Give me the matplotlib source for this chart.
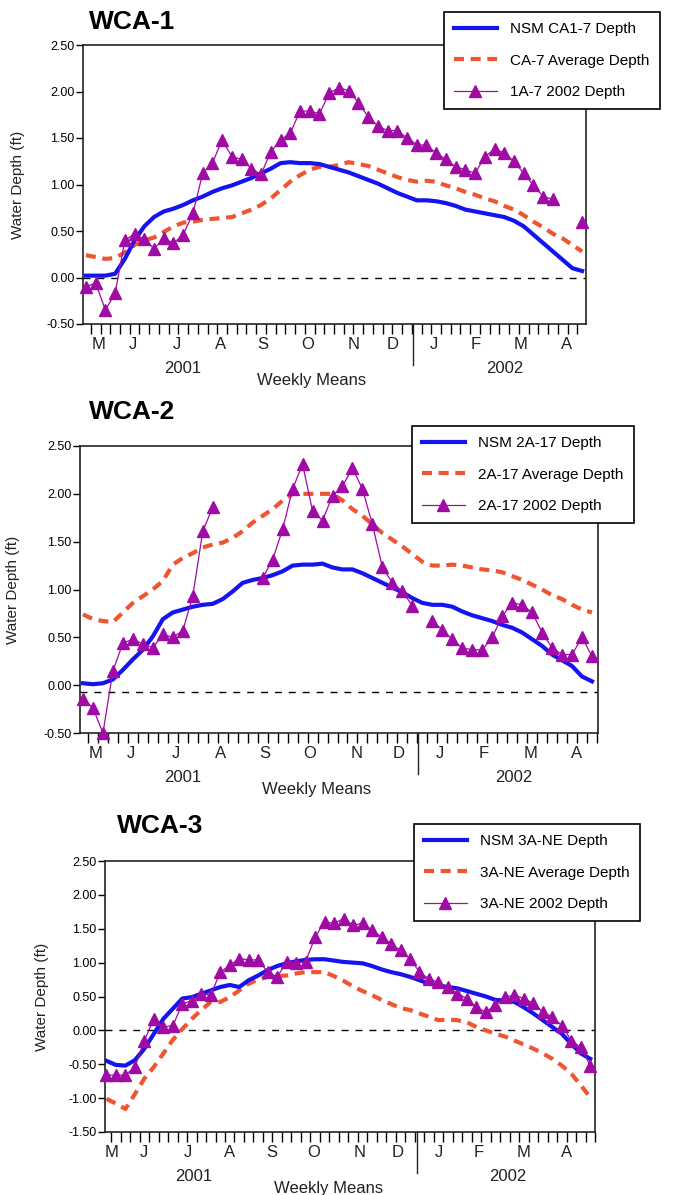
import matplotlib.pyplot as plt
import matplotlib.transforms as mtransforms
import numpy as np

plt.rcParams['font.family'] = ['Liberation Sans', 'DejaVu Sans']

# ----------------------------------------------------
# Data (weekly means, May 2001 - April 2002)
# ----------------------------------------------------
weeks = np.arange(52)
nan = np.nan

month_labels = ['M', 'J', 'J', 'A', 'S', 'O', 'N', 'D', 'J', 'F', 'M', 'A']
year_labels = ['2001', '2002']

# WCA-1
nsm_1 = [0.02, 0.02, 0.02, 0.04, 0.20, 0.40, 0.55, 0.65, 0.71, 0.74, 0.78, 0.83, 0.87,
         0.92, 0.96, 0.99, 1.03, 1.07, 1.12, 1.17, 1.23, 1.24, 1.23, 1.23, 1.22, 1.19,
         1.16, 1.13, 1.09, 1.05, 1.01, 0.96, 0.91, 0.87, 0.83, 0.83, 0.82, 0.80, 0.77,
         0.73, 0.71, 0.69, 0.67, 0.65, 0.61, 0.55, 0.46, 0.37, 0.28, 0.19, 0.10, 0.07]
avg_1 = [0.24, 0.22, 0.20, 0.21, 0.27, 0.35, 0.40, 0.43, 0.49, 0.55, 0.59, 0.60, 0.62,
         0.63, 0.64, 0.65, 0.69, 0.73, 0.78, 0.85, 0.94, 1.03, 1.10, 1.16, 1.19, 1.19,
         1.21, 1.24, 1.22, 1.20, 1.16, 1.12, 1.08, 1.05, 1.03, 1.04, 1.03, 0.99, 0.96,
         0.92, 0.89, 0.85, 0.82, 0.77, 0.73, 0.67, 0.60, 0.54, 0.47, 0.42, 0.35, 0.28]
obs_1 = [-0.10, -0.06, -0.35, -0.17, 0.40, 0.47, 0.41, 0.31, 0.42, 0.37, 0.46, 0.69, 1.12,
         1.23, 1.48, 1.30, 1.27, 1.17, 1.11, 1.35, 1.48, 1.55, 1.79, 1.79, 1.76, 1.98,
         2.04, 2.01, 1.88, 1.73, 1.63, 1.58, 1.58, 1.50, 1.43, 1.42, 1.34, 1.27, 1.19,
         1.16, 1.12, 1.30, 1.38, 1.34, 1.25, 1.12, 0.99, 0.87, 0.84, nan, nan, 0.60]

# WCA-2
nsm_2 = [0.02, 0.01, 0.02, 0.06, 0.16, 0.27, 0.37, 0.51, 0.69, 0.76, 0.79, 0.82, 0.84,
         0.85, 0.90, 0.98, 1.07, 1.10, 1.12, 1.15, 1.19, 1.25, 1.26, 1.26, 1.27, 1.23,
         1.21, 1.21, 1.17, 1.12, 1.07, 1.02, 0.97, 0.91, 0.86, 0.84, 0.84, 0.82, 0.77,
         0.73, 0.70, 0.67, 0.63, 0.60, 0.55, 0.48, 0.41, 0.32, 0.26, 0.20, 0.09, 0.04]
avg_2 = [0.74, 0.69, 0.67, 0.66, 0.76, 0.86, 0.93, 1.00, 1.09, 1.26, 1.33, 1.38, 1.44,
         1.47, 1.49, 1.54, 1.61, 1.70, 1.77, 1.84, 1.93, 2.00, 2.00, 2.00, 2.00, 2.00,
         1.93, 1.84, 1.77, 1.68, 1.59, 1.52, 1.45, 1.37, 1.29, 1.25, 1.25, 1.26, 1.25,
         1.23, 1.21, 1.20, 1.18, 1.14, 1.10, 1.05, 1.00, 0.94, 0.90, 0.84, 0.79, 0.76]
obs_2 = [-0.14, -0.24, -0.50, 0.15, 0.44, 0.48, 0.43, 0.39, 0.53, 0.50, 0.57, 0.93, 1.61,
         1.86, nan, nan, nan, nan, 1.12, 1.31, 1.63, 2.05, 2.31, 1.82, 1.72, 1.98,
         2.08, 2.27, 2.05, 1.68, 1.23, 1.07, 0.98, 0.83, nan, 0.67, 0.58, 0.48, 0.39,
         0.37, 0.37, 0.50, 0.72, 0.86, 0.84, 0.76, 0.55, 0.39, 0.32, 0.32, 0.50, 0.30]

# WCA-3
nsm_3 = [-0.45, -0.51, -0.52, -0.44, -0.27, -0.05, 0.17, 0.32, 0.47, 0.49, 0.54, 0.59,
         0.64, 0.67, 0.64, 0.74, 0.81, 0.89, 0.95, 0.99, 1.02, 1.04, 1.05, 1.05, 1.03,
         1.01, 1.00, 0.99, 0.95, 0.90, 0.86, 0.83, 0.79, 0.74, 0.69, 0.66, 0.64, 0.62,
         0.58, 0.54, 0.50, 0.45, 0.44, 0.42, 0.34, 0.25, 0.15, 0.05, -0.05, -0.20, -0.34,
         -0.42]
avg_3 = [-1.01, -1.08, -1.16, -0.94, -0.71, -0.54, -0.34, -0.14, 0.02, 0.17, 0.30, 0.42,
         0.42, 0.49, 0.59, 0.69, 0.75, 0.79, 0.80, 0.81, 0.84, 0.86, 0.86, 0.86, 0.80,
         0.73, 0.65, 0.58, 0.52, 0.45, 0.39, 0.33, 0.30, 0.25, 0.20, 0.15, 0.16, 0.15,
         0.12, 0.05, 0.00, -0.05, -0.09, -0.15, -0.21, -0.27, -0.34, -0.42, -0.52, -0.64,
         -0.81, -0.99]
obs_3 = [-0.66, -0.66, -0.66, -0.54, -0.15, 0.17, 0.05, 0.07, 0.39, 0.44, 0.54, 0.52,
         0.86, 0.96, 1.06, 1.04, 1.04, 0.86, 0.79, 1.01, 1.00, 1.01, 1.38, 1.60, 1.58,
         1.65, 1.55, 1.58, 1.48, 1.38, 1.28, 1.18, 1.06, 0.86, 0.76, 0.71, 0.64, 0.54,
         0.47, 0.34, 0.27, 0.38, 0.49, 0.52, 0.47, 0.40, 0.27, 0.20, 0.07, -0.15, -0.25,
         -0.52]

panels = [
    dict(title='WCA-1', nsm=nsm_1, avg=avg_1, obs=obs_1,
         labels=['NSM CA1-7 Depth', 'CA-7 Average Depth', '1A-7 2002 Depth'],
         ylim=(-0.5, 2.5), ref=0.0),
    dict(title='WCA-2', nsm=nsm_2, avg=avg_2, obs=obs_2,
         labels=['NSM 2A-17 Depth', '2A-17 Average Depth', '2A-17 2002 Depth'],
         ylim=(-0.5, 2.5), ref=-0.07),
    dict(title='WCA-3', nsm=nsm_3, avg=avg_3, obs=obs_3,
         labels=['NSM 3A-NE Depth', '3A-NE Average Depth', '3A-NE 2002 Depth'],
         ylim=(-1.5, 2.5), ref=0.0),
]

# layout in pixels: axes (left, right, top, bottom), legend corner, title corner
W, H = 678, 1195
layout = [
    dict(ax=(83, 586, 45, 324), leg=(444, 12), ttl=(89, 22), xlim=(-0.3, 51.4),
         months=[1.3, 4.8, 9.4, 13.8, 18.2, 22.8, 27.5, 31.5, 35.8, 40.1, 44.7, 49.4],
         years=[9.9, 43.1], split=33.6, xlab=23.2),
    dict(ax=(80, 598, 446, 733), leg=(412, 426), ttl=(89, 412), xlim=(-0.3, 51.6),
         months=[1.3, 4.8, 9.3, 13.8, 18.2, 22.7, 27.4, 31.6, 35.8, 40.1, 44.8, 49.4],
         years=[10.0, 43.2], split=33.6, xlab=23.4),
    dict(ax=(105, 595, 861, 1132), leg=(414, 824), ttl=(117, 826), xlim=(-0.15, 51.5),
         months=[0.5, 4.0, 8.6, 13.0, 17.4, 21.9, 26.7, 30.7, 35.0, 39.2, 44.0, 48.5],
         years=[9.2, 42.3], split=32.7, xlab=23.4),
]

blue = '#1414f0'
orange = '#f05532'
purple = '#a00aa5'

fig = plt.figure(figsize=(W / 100, H / 100), dpi=100)

for p, lay in zip(panels, layout):
    l, r, t, b = lay['ax']
    ax = fig.add_axes([l / W, 1 - b / H, (r - l) / W, (b - t) / H])

    ax.plot(weeks, p['nsm'], color=blue, linewidth=3, label=p['labels'][0], zorder=3)
    ax.plot(weeks, p['avg'], color=orange, linewidth=3, linestyle=(0, (2.4, 1.6)),
            label=p['labels'][1], zorder=2)
    ax.plot(weeks, p['obs'], color=purple, linewidth=0.9, marker='^', markersize=9,
            label=p['labels'][2], zorder=4, clip_on=False)
    ax.axhline(p['ref'], color='black', linewidth=1, linestyle=(0, (5, 5)), zorder=1)

    ax.set_xlim(*lay['xlim'])
    ax.set_ylim(*p['ylim'])
    ax.set_yticks(np.arange(p['ylim'][0], p['ylim'][1] + 0.01, 0.5))
    ax.yaxis.set_major_formatter(plt.FormatStrFormatter('%.2f'))
    ax.tick_params(axis='y', labelsize=9, length=5, width=1, pad=1, direction='out')

    tk = np.arange(-0.5, 52, 1.0)
    tk = tk[(tk >= lay['xlim'][0]) & (tk <= lay['xlim'][1])]
    ax.set_xticks(tk)
    ax.set_xticklabels([])
    ax.tick_params(axis='x', length=7, width=1, direction='out')

    for s in ax.spines.values():
        s.set_linewidth(1.2)
        s.set_color('#222222')

    ax.set_ylabel('Water Depth (ft)', fontsize=11, color='#222222')
    ax.yaxis.set_label_coords(-0.115, 0.5)

    # month, year and axis labels under the axis
    for m, pos in zip(month_labels, lay['months']):
        ax.annotate(m, xy=(pos, 0), xycoords=('data', 'axes fraction'),
                    xytext=(0, -15), textcoords='offset points',
                    ha='center', va='center', fontsize=12, color='#222222')
    for yl, pos in zip(year_labels, lay['years']):
        ax.annotate(yl, xy=(pos, 0), xycoords=('data', 'axes fraction'),
                    xytext=(0, -32), textcoords='offset points',
                    ha='center', va='center', fontsize=12, color='#222222')
    ax.annotate('Weekly Means', xy=(lay['xlab'], 0), xycoords=('data', 'axes fraction'),
                xytext=(0, -41), textcoords='offset points',
                ha='center', va='center', fontsize=12, color='#222222')
    trans = mtransforms.blended_transform_factory(ax.transData, ax.transAxes)
    ax.plot([lay['split'], lay['split']], [0, -41 / (b - t)], color='#222222',
            linewidth=1, transform=trans, clip_on=False)

    fig.text(lay['ttl'][0] / W, 1 - lay['ttl'][1] / H, p['title'], fontsize=19,
             fontweight='bold', ha='left', va='center')

    leg = ax.legend(loc='upper left', bbox_to_anchor=(lay['leg'][0] / W, 1 - lay['leg'][1] / H),
                    bbox_transform=fig.transFigure, fontsize=11, frameon=True,
                    fancybox=False, framealpha=1, edgecolor='black', borderaxespad=0,
                    borderpad=0.65, labelspacing=1.15, handlelength=2.8, handletextpad=0.9)
    leg.get_frame().set_linewidth(1.2)
    leg.set_zorder(10)

fig.savefig('out.png', dpi=100)
